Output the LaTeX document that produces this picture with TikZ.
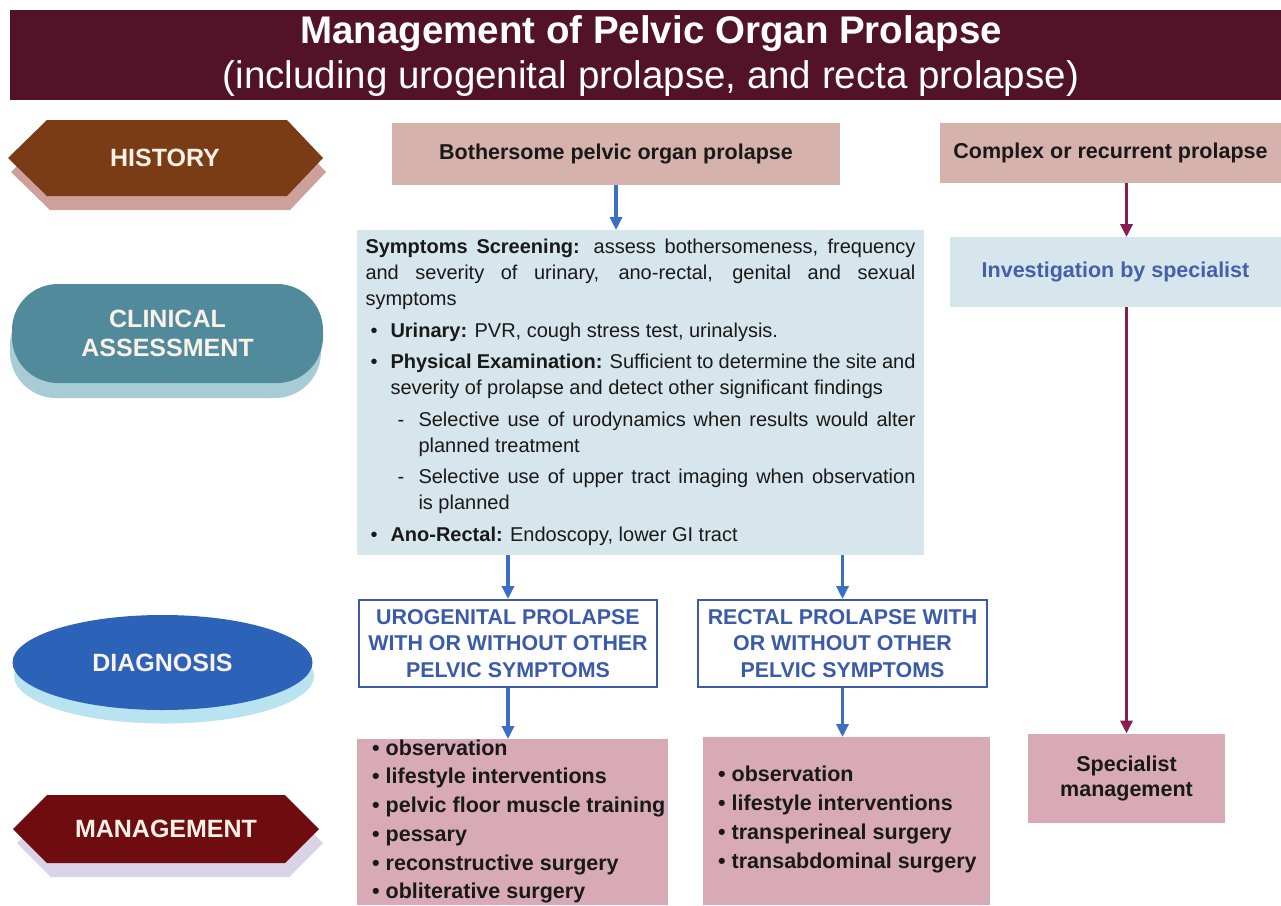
\documentclass[tikz,border=0pt]{standalone}
\usepackage{fontspec}
\setmainfont{Liberation Sans}
\usetikzlibrary{arrows.meta,shapes.geometric}
\definecolor{titlebg}{RGB}{82,18,40}
\definecolor{histfill}{RGB}{122,60,20}
\definecolor{histshadow}{RGB}{205,160,155}
\definecolor{clinfill}{RGB}{80,138,155}
\definecolor{clinshadow}{RGB}{168,204,214}
\definecolor{diagfill}{RGB}{45,98,185}
\definecolor{diagshadow}{RGB}{185,227,240}
\definecolor{mgmthex}{RGB}{110,12,16}
\definecolor{mgmtshadow}{RGB}{218,210,230}
\definecolor{sidetext}{RGB}{250,242,232}
\definecolor{bothfill}{RGB}{214,178,172}
\definecolor{symfill}{RGB}{214,230,236}
\definecolor{invtext}{RGB}{70,95,170}
\definecolor{diagblue}{RGB}{60,90,170}
\definecolor{mgmtfill}{RGB}{215,170,182}
\definecolor{arrowblue}{RGB}{60,110,195}
\definecolor{arrowmaroon}{RGB}{135,30,80}
\definecolor{bodytext}{RGB}{25,25,25}
\newcommand{\symitem}[2]{\noindent\hangindent=25pt\hangafter=1\makebox[25pt][l]{\hspace{5pt}•}\textbf{#1} #2\par}
\newcommand{\symdash}[1]{\noindent\hangindent=53pt\hangafter=1\makebox[53pt][l]{\hspace{32pt}-}#1\par}
\begin{document}
\begin{tikzpicture}[x=1pt,y=-1pt,
  sidetxt/.style={text=sidetext, font=\fontsize{25}{29}\selectfont\bfseries, align=center, inner sep=0pt},
  pinkbox/.style={fill=bothfill, inner sep=0pt, outer sep=0pt, text=bodytext, font=\fontsize{21.5}{25}\selectfont\bfseries},
  symbox/.style={fill=symfill, inner xsep=8.5pt, inner ysep=0pt, outer sep=0pt, text width=550pt, minimum height=325pt, align=justify, text=bodytext, font=\fontsize{20}{26}\selectfont},
  diagbox/.style={draw=diagblue, line width=2pt, fill=white, text=diagblue, inner sep=0pt, align=center, minimum height=87pt, font=\fontsize{21.4}{26.5}\selectfont\bfseries},
  mgmtbox/.style={fill=mgmtfill, inner sep=0pt, outer sep=0pt},
  mgmttxt/.style={text=bodytext, align=left, inner sep=0pt, font=\fontsize{21.5}{28.7}\selectfont\bfseries},
  invbox/.style={fill=symfill, inner sep=0pt, outer sep=0pt, text=invtext, font=\fontsize{21.5}{25}\selectfont\bfseries},
  bluearrow/.style={draw=arrowblue, line width=3.5pt, -{Triangle[width=12pt,length=13pt]}},
  maroonarrow/.style={draw=arrowmaroon, line width=3.5pt, -{Triangle[width=12pt,length=13pt]}}
]
\useasboundingbox (0,0) rectangle (1281,905);
\fill[white] (0,0) rectangle (1281,905);

% title
\node[fill=titlebg, minimum width=1271pt, minimum height=90pt, anchor=north west, inner sep=0pt, outer sep=0pt] (titlebar) at (10,10) {};
\node[text=white, font=\fontsize{38.5}{44}\selectfont\bfseries, inner sep=0pt, anchor=base] (title1) at (651,43) {Management of Pelvic Organ Prolapse};
\node[text=white, font=\fontsize{38.5}{44}\selectfont, inner sep=0pt, anchor=base] (title2) at (651,88) {(including urogenital prolapse, and recta prolapse)};

% HISTORY hexagon
\fill[histshadow, shift={(3,14)}] (8,158) -- (47,120) -- (287,120) -- (323,158) -- (287,196) -- (47,196) -- cycle;
\fill[histfill] (8,158) -- (47,120) -- (287,120) -- (323,158) -- (287,196) -- (47,196) -- cycle;
\node[sidetxt] (history) at (165,158) {HISTORY};

% CLINICAL ASSESSMENT
\fill[clinshadow, rounded corners=46pt] (10,299) rectangle (321,398);
\node[fill=clinfill, rounded corners=46pt, minimum width=311pt, minimum height=99pt, inner sep=0pt, sidetxt] (clinical) at (167.5,333.5) {CLINICAL\\ASSESSMENT};

% DIAGNOSIS
\fill[diagshadow] (164,676) ellipse [x radius=150pt, y radius=47.5pt];
\node[ellipse, fill=diagfill, minimum width=300pt, minimum height=95pt, inner sep=0pt, sidetxt] (diagnosis) at (162.5,662.5) {DIAGNOSIS};

% MANAGEMENT hexagon
\fill[mgmtshadow, shift={(4,14)}] (13,829) -- (47,795) -- (285,795) -- (319,829) -- (285,863) -- (47,863) -- cycle;
\fill[mgmthex] (13,829) -- (47,795) -- (285,795) -- (319,829) -- (285,863) -- (47,863) -- cycle;
\node[sidetxt] (management) at (166,829) {MANAGEMENT};

% middle column
\node[pinkbox, minimum width=448pt, minimum height=62pt] (bother) at (616,154) {Bothersome pelvic organ prolapse};

\node[symbox] (sym) at (640.5,392.5) {%
\hyphenpenalty=10000\exhyphenpenalty=10000\emergencystretch=20pt%
\setlength{\parskip}{5.5pt}%
\textbf{Symptoms Screening:} assess bothersomeness, frequency and severity of urinary, ano-rectal, genital and sexual symptoms\par
\symitem{Urinary:}{PVR, cough stress test, urinalysis.}
\symitem{Physical Examination:}{Sufficient to determine the site and severity of prolapse and detect other significant findings}
\symdash{Selective use of urodynamics when results would alter planned treatment}
\symdash{Selective use of upper tract imaging when observation is~planned}
\symitem{Ano-Rectal:}{Endoscopy, lower GI tract}};

\node[diagbox, minimum width=298pt] (uro) at (508,643.5) {UROGENITAL PROLAPSE\\WITH OR WITHOUT OTHER\\PELVIC SYMPTOMS};
\node[diagbox, minimum width=289pt] (rectal) at (842.5,643.5) {RECTAL PROLAPSE WITH\\OR WITHOUT OTHER\\PELVIC SYMPTOMS};

\node[mgmtbox, minimum width=311pt, minimum height=166pt] (m1) at (512.5,822) {};
\node[mgmttxt, anchor=west] (m1t) at (372,821.5) {• observation\\• lifestyle interventions\\• pelvic floor muscle training\\• pessary\\• reconstructive surgery\\• obliterative surgery};
\node[mgmtbox, minimum width=287pt, minimum height=168pt] (m2) at (846.5,821) {};
\node[mgmttxt, anchor=west] (m2t) at (718,819.5) {• observation\\• lifestyle interventions\\• transperineal surgery\\• transabdominal surgery};

% right column
\node[pinkbox, minimum width=341pt, minimum height=60pt] (complex) at (1110.5,153) {Complex or recurrent prolapse};
\node[invbox, minimum width=331pt, minimum height=70pt] (inv) at (1115.5,272) {Investigation by specialist};
\node[pinkbox, fill=mgmtfill, align=center, minimum width=197pt, minimum height=89pt] (spec) at (1126.5,778) {Specialist\\management};

% connectors
\draw[bluearrow] (bother.south) -- (bother.south |- sym.north);
\draw[bluearrow] (uro.north |- sym.south) -- (uro.north);
\draw[bluearrow] (rectal.north |- sym.south) -- (rectal.north);
\draw[bluearrow] (uro.south) -- (uro.south |- m1.north);
\draw[bluearrow] (rectal.south) -- (rectal.south |- m2.north);
\draw[maroonarrow] (spec.north |- complex.south) -- (spec.north |- inv.north);
\draw[maroonarrow] (spec.north |- inv.south) -- (spec.north);
\end{tikzpicture}
\end{document}
